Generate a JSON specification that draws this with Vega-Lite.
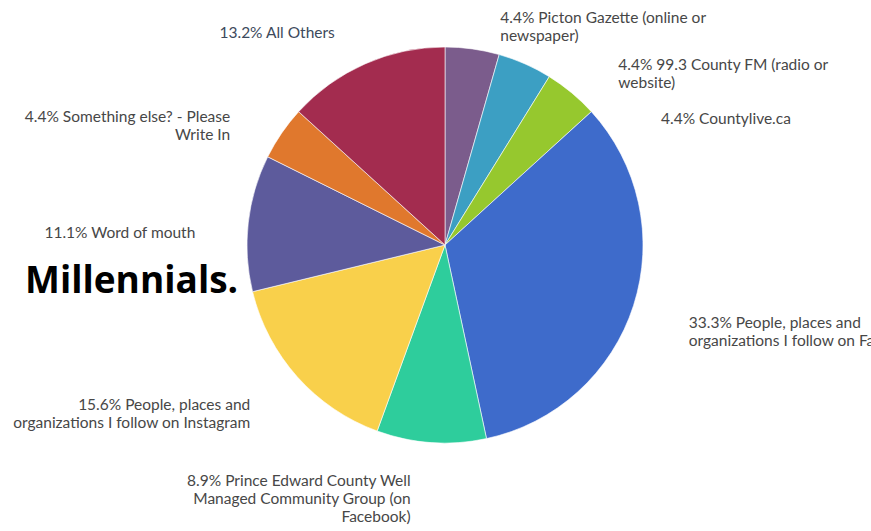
{
  "$schema": "https://vega.github.io/schema/vega-lite/v6.json",
  "width": 852,
  "height": 490,
  "autosize": {"type": "none"},
  "padding": {"left": 19, "top": 0, "right": 0, "bottom": 41},
  "background": "#ffffff",
  "config": {"view": {"stroke": null}, "text": {"font": "Lato"}},
  "title": {
    "text": "Millennials.",
    "anchor": "start",
    "frame": "group",
    "orient": "top",
    "font": "Open Sans",
    "fontSize": 37,
    "fontWeight": "bold",
    "color": "#000000",
    "baseline": "alphabetic",
    "offset": 0,
    "dx": 6,
    "dy": 346
  },
  "data": {
    "values": [
      {"rank": 1, "key": "Picton", "pct": 4.4, "label": "4.4% Picton Gazette (online or\nnewspaper)"},
      {"rank": 2, "key": "CountyFM", "pct": 4.4, "label": "4.4% 99.3 County FM (radio or\nwebsite)"},
      {"rank": 3, "key": "Countylive", "pct": 4.4, "label": "4.4% Countylive.ca"},
      {"rank": 4, "key": "Facebook", "pct": 33.3, "label": "33.3% People, places and\norganizations I follow on Facebook"},
      {"rank": 5, "key": "PECWMCG", "pct": 8.9, "label": "8.9% Prince Edward County Well\nManaged Community Group (on\nFacebook)"},
      {"rank": 6, "key": "Instagram", "pct": 15.6, "label": "15.6% People, places and\norganizations I follow on Instagram"},
      {"rank": 7, "key": "Word", "pct": 11.1, "label": "11.1% Word of mouth"},
      {"rank": 8, "key": "Else", "pct": 4.4, "label": "4.4% Something else? - Please\nWrite In"},
      {"rank": 9, "key": "Others", "pct": 13.2, "label": "13.2% All Others"}
    ]
  },
  "resolve": {"scale": {"theta": "independent"}},
  "layer": [
    {
      "mark": {"type": "arc", "outerRadius": 198, "stroke": "#ffffff", "strokeWidth": 0.6},
      "encoding": {
        "theta": {"field": "pct", "type": "quantitative", "stack": true},
        "order": {"field": "rank", "type": "quantitative"},
        "color": {
          "field": "key",
          "type": "nominal",
          "legend": null,
          "scale": {
            "domain": ["Picton", "CountyFM", "Countylive", "Facebook", "PECWMCG", "Instagram", "Word", "Else", "Others"],
            "range": ["#7b5c8c", "#3c9fc3", "#96c82e", "#3e6bcb", "#2ecd9c", "#f9d04b", "#5d5b9c", "#e0782d", "#a32c4f"]
          }
        }
      }
    },
    {
      "mark": {"type": "text", "radius": 256, "align": "left", "baseline": "alphabetic", "dy": 5, "fontSize": 15.5, "lineHeight": 18, "lineBreak": "\n", "color": "#474747"},
      "encoding": {
        "theta": {"field": "pct", "type": "quantitative", "stack": true},
        "order": {"field": "rank", "type": "quantitative"},
        "text": {"condition": {"test": "datum.key === 'Facebook'", "field": "label"}, "value": ""}
      }
    },
    {
      "mark": {"type": "text", "radius": 234, "align": "left", "baseline": "alphabetic", "dy": 5, "fontSize": 15.5, "lineHeight": 18, "lineBreak": "\n", "color": "#474747"},
      "encoding": {
        "theta": {"field": "pct", "type": "quantitative", "stack": true, "scale": {"range": [0.1, 6.383]}},
        "order": {"field": "rank", "type": "quantitative"},
        "text": {"condition": {"test": "datum.key === 'Picton'", "field": "label"}, "value": ""}
      }
    },
    {
      "mark": {"type": "text", "radius": 250, "align": "left", "baseline": "alphabetic", "dy": 5, "fontSize": 15.5, "lineHeight": 18, "lineBreak": "\n", "color": "#474747"},
      "encoding": {
        "theta": {"field": "pct", "type": "quantitative", "stack": true, "scale": {"range": [0.35, 6.633]}},
        "order": {"field": "rank", "type": "quantitative"},
        "text": {"condition": {"test": "indexof(['CountyFM','Countylive'], datum.key) >= 0", "field": "label"}, "value": ""}
      }
    },
    {
      "mark": {"type": "text", "radius": 252, "align": "right", "baseline": "alphabetic", "dy": 5, "fontSize": 15.5, "lineHeight": 18, "lineBreak": "\n", "color": "#474747"},
      "encoding": {
        "theta": {"field": "pct", "type": "quantitative", "stack": true, "scale": {"range": [0.042, 6.325]}},
        "order": {"field": "rank", "type": "quantitative"},
        "text": {"condition": {"test": "datum.key === 'Instagram'", "field": "label"}, "value": ""}
      }
    },
    {
      "mark": {"type": "text", "radius": 250, "align": "right", "baseline": "alphabetic", "dy": 5, "fontSize": 15.5, "lineHeight": 18, "lineBreak": "\n", "color": "#474747"},
      "encoding": {
        "theta": {"field": "pct", "type": "quantitative", "stack": true, "scale": {"range": [-0.063, 6.22]}},
        "order": {"field": "rank", "type": "quantitative"},
        "text": {"condition": {"test": "indexof(['Word','Else'], datum.key) >= 0", "field": "label"}, "value": ""}
      }
    },
    {
      "mark": {"type": "text", "radius": 237, "align": "right", "baseline": "alphabetic", "dx": -18, "dy": 5, "fontSize": 15.5, "lineHeight": 18, "lineBreak": "\n", "color": "#474747"},
      "encoding": {
        "theta": {"field": "pct", "type": "quantitative", "stack": true},
        "order": {"field": "rank", "type": "quantitative"},
        "text": {"condition": {"test": "datum.key === 'PECWMCG'", "field": "label"}, "value": ""}
      }
    },
    {
      "mark": {"type": "text", "radius": 239, "align": "right", "baseline": "alphabetic", "dy": 5, "fontSize": 15.5, "lineHeight": 18, "color": "#3d4a5c"},
      "encoding": {
        "theta": {"field": "pct", "type": "quantitative", "stack": true, "scale": {"range": [-0.063, 6.22]}},
        "order": {"field": "rank", "type": "quantitative"},
        "text": {"condition": {"test": "datum.key === 'Others'", "field": "label"}, "value": ""}
      }
    }
  ]
}
